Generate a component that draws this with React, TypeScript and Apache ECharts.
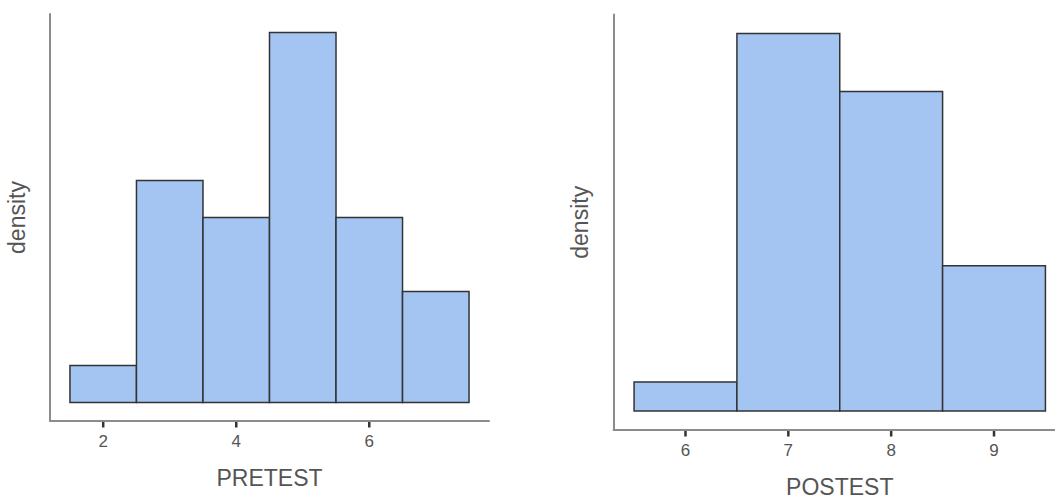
import React, { useEffect, useRef } from "react";
import * as echarts from "echarts";

// PRETEST histogram (bin width 1)
const pretestBinStarts = [1.5, 2.5, 3.5, 4.5, 5.5, 6.5];
const pretestDensity = [0.0333, 0.2, 0.1667, 0.3333, 0.1667, 0.1];
const pretestTicks = [2, 4, 6];

// POSTEST histogram (bin width 1)
const postestBinStarts = [5.5, 6.5, 7.5, 8.5];
const postestDensity = [0.0333, 0.4333, 0.3667, 0.1667];
const postestTicks = [6, 7, 8, 9];

const binWidth = 1;
const FILL = "#A4C4F1";
const EDGE = "#333333";
const AXIS = "#8c8c8c";
const TEXT = "#555555";
const FONT = "Liberation Sans, Arial, sans-serif";

function histData(starts: number[], dens: number[]) {
  return starts.map((s, i) => [s, s + binWidth, dens[i]]);
}

function renderBin(params: any, api: any) {
  const x0 = api.value(0);
  const x1 = api.value(1);
  const y = api.value(2);
  const p0 = api.coord([x0, y]);
  const p1 = api.coord([x1, 0]);
  return {
    type: "rect",
    shape: { x: p0[0], y: p0[1], width: p1[0] - p0[0], height: p1[1] - p0[1] },
    style: { fill: FILL, stroke: EDGE, lineWidth: 1.5 },
  };
}

function renderTick(params: any, api: any) {
  const p = api.coord([api.value(0), api.value(1)]);
  return {
    type: "rect",
    shape: { x: p[0] - 1.25, y: p[1] + 1, width: 2.5, height: 5.5 },
    style: { fill: "#333333" },
  };
}

function xAxisFor(grid: number, min: number, max: number, ticks: number[], name: string) {
  return {
    type: "value",
    gridIndex: grid,
    min,
    max,
    name,
    nameLocation: "middle",
    nameGap: 45,
    nameTextStyle: { color: TEXT, fontSize: 23, fontFamily: FONT },
    splitLine: { show: false },
    axisLine: { show: true, onZero: false, lineStyle: { color: AXIS, width: 2 } },
    axisTick: { show: false },
    axisLabel: {
      show: true,
      color: TEXT,
      fontSize: 17,
      fontFamily: FONT,
      margin: 12,
      customValues: ticks,
    },
  };
}

function yAxisFor(grid: number, min: number, max: number) {
  return {
    type: "value",
    gridIndex: grid,
    min,
    max,
    name: "density",
    nameLocation: "middle",
    nameGap: 22,
    nameRotate: 90,
    nameTextStyle: { color: TEXT, fontSize: 23, fontFamily: FONT },
    splitLine: { show: false },
    axisLine: { show: true, onZero: false, lineStyle: { color: AXIS, width: 2 } },
    axisTick: { show: false },
    axisLabel: { show: false },
  };
}

export default function App() {
  const ref = useRef<HTMLDivElement>(null);
  useEffect(() => {
    document.body.style.margin = "0";
    if (!ref.current) return;
    const chart = echarts.init(ref.current, undefined, { renderer: "svg" });
    const preMax = Math.max(...pretestDensity);
    const postMax = Math.max(...postestDensity);
    const preMin = -preMax * 0.05;
    const postMin = -postMax * 0.05;
    chart.setOption({
      animation: false,
      backgroundColor: "#ffffff",
      grid: [
        { left: 50, top: 14, width: 439, height: 407 },
        { left: 613.5, top: 14.6, width: 452.5, height: 420 },
      ],
      xAxis: [
        xAxisFor(0, 1.2, 7.8, pretestTicks, "PRETEST"),
        xAxisFor(1, 5.3, 9.7, postestTicks, "POSTEST"),
      ],
      yAxis: [
        yAxisFor(0, preMin, preMax * 1.05),
        yAxisFor(1, postMin, postMax * 1.05),
      ],
      series: [
        {
          type: "custom",
          xAxisIndex: 0,
          yAxisIndex: 0,
          renderItem: renderBin,
          encode: { x: [0, 1], y: 2 },
          data: histData(pretestBinStarts, pretestDensity),
          clip: false,
        },
        {
          type: "custom",
          xAxisIndex: 1,
          yAxisIndex: 1,
          renderItem: renderBin,
          encode: { x: [0, 1], y: 2 },
          data: histData(postestBinStarts, postestDensity),
          clip: false,
        },
        {
          type: "custom",
          xAxisIndex: 0,
          yAxisIndex: 0,
          renderItem: renderTick,
          encode: { x: 0, y: 1 },
          data: pretestTicks.map((t) => [t, preMin]),
          clip: false,
          silent: true,
          z: 10,
        },
        {
          type: "custom",
          xAxisIndex: 1,
          yAxisIndex: 1,
          renderItem: renderTick,
          encode: { x: 0, y: 1 },
          data: postestTicks.map((t) => [t, postMin]),
          clip: false,
          silent: true,
          z: 10,
        },
      ],
    });
    return () => chart.dispose();
  }, []);
  return (
    <div style={{ width: 1055, height: 503, overflow: "hidden", position: "relative" }}>
      <div ref={ref} style={{ width: 1080, height: 503 }} />
    </div>
  );
}
